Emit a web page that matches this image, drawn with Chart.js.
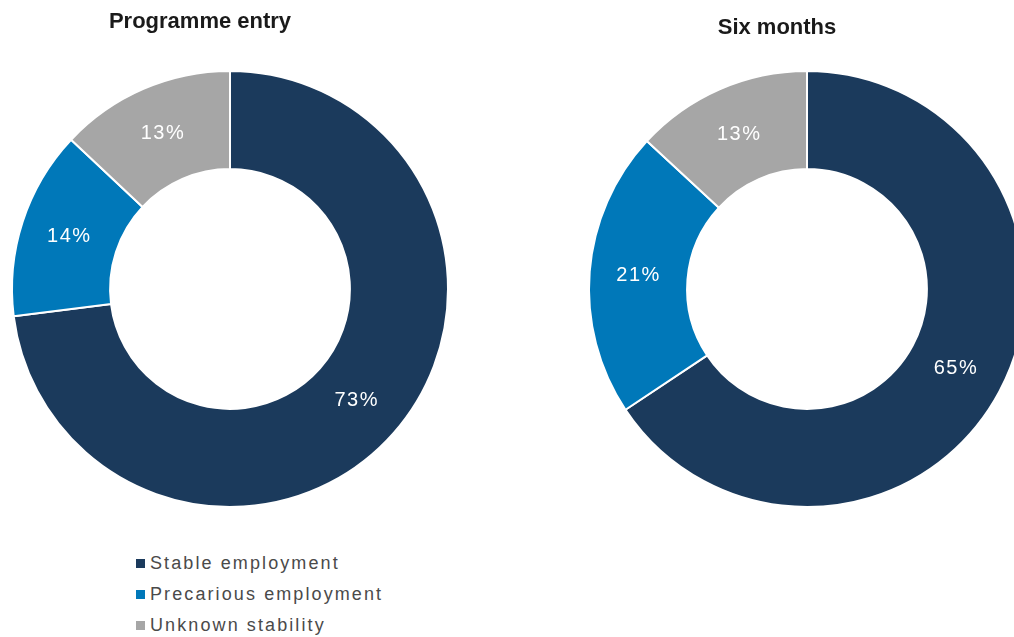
<!DOCTYPE html>
<html>
<head>
<meta charset="utf-8">
<script src="https://cdn.jsdelivr.net/npm/chart.js@4/dist/chart.umd.min.js"></script>
<style>
  html, body {
    margin: 0;
    padding: 0;
    width: 1014px;
    height: 637px;
    overflow: hidden;
    background: #ffffff;
    font-family: "Liberation Sans", Arial, sans-serif;
  }
  .chart-box {
    position: absolute;
    top: 0;
  }
  #legend {
    position: absolute;
    left: 136px;
    top: 548px;
    font-size: 18px;
    letter-spacing: 2.1px;
    color: #4a4a4a;
    line-height: 31px;
  }
  #legend .item {
    display: flex;
    align-items: center;
    height: 31px;
  }
  #legend .swatch {
    width: 9px;
    height: 9px;
    margin-right: 5px;
    flex: none;
  }
</style>
</head>
<body>
<div class="chart-box" style="left: -60px;"><canvas id="entry" width="520" height="508"></canvas></div>
<div class="chart-box" style="left: 517px;"><canvas id="sixMonths" width="520" height="508"></canvas></div>
<div id="legend"></div>

<script>
var categories = ["Stable employment", "Precarious employment", "Unknown stability"];
var colors = ["#1b3a5c", "#0078b9", "#a6a6a6"];

var entryValues = [73, 14, 13];
var sixMonthValues = [65, 21, 13];

var titles = ["Programme entry", "Six months"];

// writes "NN%" in the middle of every arc
var arcLabels = {
  id: "arcLabels",
  afterDatasetsDraw: function (chart) {
    var ctx = chart.ctx;
    var meta = chart.getDatasetMeta(0);
    var values = chart.data.datasets[0].data;
    ctx.save();
    ctx.font = "20px 'Liberation Sans', Arial, sans-serif";
    ctx.letterSpacing = "1.5px";
    ctx.fillStyle = "#ffffff";
    ctx.textAlign = "center";
    ctx.textBaseline = "middle";
    meta.data.forEach(function (arc, i) {
      var pos = arc.tooltipPosition();
      ctx.fillText(values[i] + "%", pos.x, pos.y);
    });
    ctx.restore();
  },
};

// heading centred on the canvas rather than on the ring
var canvasTitle = {
  id: "canvasTitle",
  afterDraw: function (chart, args, opts) {
    var ctx = chart.ctx;
    ctx.save();
    ctx.font = "bold 22px 'Liberation Sans', Arial, sans-serif";
    ctx.fillStyle = "#1a1a1a";
    ctx.textAlign = "center";
    ctx.textBaseline = "middle";
    ctx.fillText(opts.text, chart.width / 2, opts.y);
    ctx.restore();
  },
};

function makeDoughnut(canvasId, title, values, titleY) {
  return new Chart(document.getElementById(canvasId), {
    type: "doughnut",
    data: {
      labels: categories,
      datasets: [
        {
          data: values,
          backgroundColor: colors,
          borderColor: "#ffffff",
          borderWidth: 2,
        },
      ],
    },
    options: {
      responsive: false,
      animation: false,
      events: [],
      cutout: "55%",
      layout: {
        padding: { left: 60, right: 0, top: 70, bottom: 0 },
      },
      plugins: {
        legend: { display: false },
        tooltip: { enabled: false },
        title: { display: false },
        canvasTitle: { text: title, y: titleY },
      },
    },
    plugins: [arcLabels, canvasTitle],
  });
}

makeDoughnut("entry", titles[0], entryValues, 22);
makeDoughnut("sixMonths", titles[1], sixMonthValues, 28);

// shared legend under the first ring
var legend = document.getElementById("legend");
categories.forEach(function (name, i) {
  var item = document.createElement("div");
  item.className = "item";
  var swatch = document.createElement("span");
  swatch.className = "swatch";
  swatch.style.background = colors[i];
  var label = document.createElement("span");
  label.textContent = name;
  item.appendChild(swatch);
  item.appendChild(label);
  legend.appendChild(item);
});
</script>
</body>
</html>
